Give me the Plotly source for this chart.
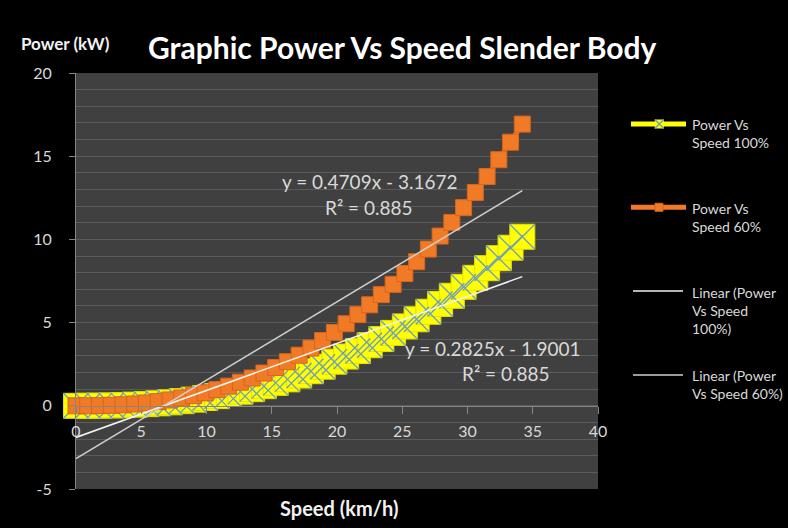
import plotly.graph_objects as go

# ---------------- data ----------------
speed_kmh = [0.0, 0.9, 1.8, 2.7, 3.6, 4.5, 5.4, 6.3, 7.2, 8.1, 9.0, 9.9, 10.8, 11.7,
             12.6, 13.5, 14.4, 15.3, 16.2, 17.1, 18.0, 18.9, 19.8, 20.7, 21.6, 22.5,
             23.4, 24.3, 25.2, 26.1, 27.0, 27.9, 28.8, 29.7, 30.6, 31.5, 32.4, 33.3, 34.2]

power_100 = [0.0, 0.0, 0.01, 0.02, 0.04, 0.07, 0.10, 0.15, 0.21, 0.28, 0.37, 0.47, 0.58,
             0.71, 0.85, 1.00, 1.18, 1.38, 1.59, 1.82, 2.08, 2.35, 2.65, 2.96, 3.29, 3.64,
             4.01, 4.38, 4.77, 5.20, 5.65, 6.12, 6.61, 7.15, 7.69, 8.27, 8.87, 9.50, 10.16]

power_60 = [0.0, 0.0, 0.01, 0.03, 0.06, 0.11, 0.17, 0.25, 0.35, 0.47, 0.61, 0.78, 0.97,
            1.18, 1.42, 1.67, 1.97, 2.30, 2.65, 3.04, 3.47, 3.92, 4.41, 4.93, 5.48, 6.07,
            6.68, 7.30, 7.95, 8.66, 9.42, 10.20, 11.02, 11.91, 12.82, 13.78, 14.79, 15.84, 16.93]

trend_100 = {"slope": 0.2825, "intercept": -1.9001, "r2": 0.885}
trend_60 = {"slope": 0.4709, "intercept": -3.1672, "r2": 0.885}

series_names = ["Power Vs<br>Speed 100%", "Power Vs<br>Speed 60%",
                "Linear (Power<br>Vs Speed<br>100%)", "Linear (Power<br>Vs Speed 60%)"]

x_ticks = [0, 5, 10, 15, 20, 25, 30, 35, 40]
y_ticks = [-5, 0, 5, 10, 15, 20]

# ---------------- styles ----------------
FONT = "Lato"
YELLOW = "#FFFF00"
XBLUE = "#6F9FBF"
ORANGE = "#F07A26"
ORANGE_EDGE = "#D8661C"
TREND_100_C = "#F2F2F2"
TREND_60_C = "#CFCFCF"
TXT = "#D9D9D9"
AXIS_C = "#868686"
GRID_C = "#5B5B5B"

x_end = [speed_kmh[0], speed_kmh[-1]]
fit100 = [trend_100["slope"] * v + trend_100["intercept"] for v in x_end]
fit60 = [trend_60["slope"] * v + trend_60["intercept"] for v in x_end]

fig = go.Figure()

fig.add_trace(go.Scatter(
    x=speed_kmh, y=power_100, mode="lines+markers", showlegend=False,
    line=dict(color=YELLOW, width=5),
    marker=dict(symbol="square", size=25, color=YELLOW, line=dict(color="#E3E300", width=1)),
    cliponaxis=False))
fig.add_trace(go.Scatter(
    x=speed_kmh, y=power_100, mode="markers", showlegend=False,
    marker=dict(symbol="x-thin", size=25, color=XBLUE, line=dict(color=XBLUE, width=1.3)),
    cliponaxis=False))
fig.add_trace(go.Scatter(
    x=speed_kmh, y=power_60, mode="lines+markers", showlegend=False,
    line=dict(color=ORANGE, width=5),
    marker=dict(symbol="square", size=16, color=ORANGE, line=dict(color=ORANGE_EDGE, width=1)),
    cliponaxis=False))
fig.add_trace(go.Scatter(
    x=x_end, y=fit100, mode="lines", showlegend=False,
    line=dict(color=TREND_100_C, width=1.5), cliponaxis=False))
fig.add_trace(go.Scatter(
    x=x_end, y=fit60, mode="lines", showlegend=False,
    line=dict(color=TREND_60_C, width=1.5), cliponaxis=False))

def eq_text(t):
    sign = "-" if t["intercept"] < 0 else "+"
    return f"y = {t['slope']:.4f}x {sign} {abs(t['intercept']):.4f}"

EQ_SIZE = 19
ann = []
ann.append(dict(x=22.53, y=13.47, xref="x", yref="y", text=eq_text(trend_60), showarrow=False,
                xanchor="center", yanchor="middle", font=dict(family=FONT, size=EQ_SIZE, color=TXT)))
ann.append(dict(x=22.45, y=11.93, xref="x", yref="y", text=f"R² = {trend_60['r2']}", showarrow=False,
                xanchor="center", yanchor="middle", font=dict(family=FONT, size=EQ_SIZE, color=TXT)))
ann.append(dict(x=31.95, y=3.45, xref="x", yref="y", text=eq_text(trend_100), showarrow=False,
                xanchor="center", yanchor="middle", font=dict(family=FONT, size=EQ_SIZE, color=TXT)))
ann.append(dict(x=32.93, y=1.93, xref="x", yref="y", text=f"R² = {trend_100['r2']}", showarrow=False,
                xanchor="center", yanchor="middle", font=dict(family=FONT, size=EQ_SIZE, color=TXT)))

# titles
ann.append(dict(x=0.6255, y=1.0625, xref="paper", yref="paper", text="<b>Graphic Power Vs Speed Slender Body</b>",
                showarrow=False, xanchor="center", yanchor="middle",
                font=dict(family=FONT, size=30, color="#FFFFFF")))
ann.append(dict(x=-0.021, y=1.071, xref="paper", yref="paper", text="<b>Power (kW)</b>",
                showarrow=False, xanchor="center", yanchor="middle",
                font=dict(family=FONT, size=17, color="#F2F2F2")))
ann.append(dict(x=0.504, y=-0.0457, xref="paper", yref="paper", text="<b>Speed (km/h)</b>",
                showarrow=False, xanchor="center", yanchor="middle",
                font=dict(family=FONT, size=20, color="#F2F2F2")))

# manual legend
leg_text_y = [0.854, 0.6538, 0.4284, 0.2512]
for name, yy in zip(series_names, leg_text_y):
    ann.append(dict(x=1.1762, y=yy, xref="paper", yref="paper", text=name, showarrow=False,
                    xanchor="left", yanchor="middle", align="left",
                    font=dict(family=FONT, size=14, color=TXT)))

shapes = []
shapes.append(dict(type="line", xref="paper", yref="paper", x0=1.0632, x1=1.1686, y0=0.8774, y1=0.8774,
                   line=dict(color=YELLOW, width=5)))
shapes.append(dict(type="line", xref="paper", yref="paper", x0=1.0632, x1=1.1686, y0=0.6772, y1=0.6772,
                   line=dict(color=ORANGE, width=5)))
shapes.append(dict(type="line", xref="paper", yref="paper", x0=1.0670, x1=1.1628, y0=0.476, y1=0.476,
                   line=dict(color=TREND_100_C, width=1.5)))
shapes.append(dict(type="line", xref="paper", yref="paper", x0=1.0670, x1=1.1628, y0=0.274, y1=0.274,
                   line=dict(color=TREND_60_C, width=1.5)))
# legend marker glyphs
shapes.append(dict(type="rect", xref="paper", yref="paper", xsizemode="pixel", ysizemode="pixel",
                   xanchor=1.1174, yanchor=0.8774, x0=-4.5, x1=4.5, y0=-4.5, y1=4.5,
                   fillcolor=YELLOW, line=dict(color=YELLOW, width=0)))
shapes.append(dict(type="path", xref="paper", yref="paper", xsizemode="pixel", ysizemode="pixel",
                   xanchor=1.1174, yanchor=0.8774, path="M-4.5,-4.5L4.5,4.5M-4.5,4.5L4.5,-4.5",
                   line=dict(color=XBLUE, width=1.3)))
shapes.append(dict(type="rect", xref="paper", yref="paper", xsizemode="pixel", ysizemode="pixel",
                   xanchor=1.1169, yanchor=0.6772, x0=-4, x1=4, y0=-4, y1=4,
                   fillcolor=ORANGE, line=dict(color=ORANGE_EDGE, width=1)))

fig.update_layout(
    width=788, height=528,
    margin=dict(l=76, r=190, t=73, b=39),
    paper_bgcolor="#000000", plot_bgcolor="#404040",
    showlegend=False,
    annotations=ann, shapes=shapes,
    xaxis=dict(range=[0, 40], tickvals=x_ticks, ticktext=[str(v) for v in x_ticks],
               anchor="free", position=0.2, showgrid=False, zeroline=False,
               showline=True, linecolor=AXIS_C, linewidth=1,
               ticks="outside", ticklen=7, tickcolor=AXIS_C, ticklabelstandoff=4,
               tickfont=dict(family=FONT, size=16, color=TXT)),
    yaxis=dict(range=[-5, 20], tickvals=y_ticks, ticktext=[str(v) for v in y_ticks],
               showgrid=True, gridcolor=GRID_C, gridwidth=1, zeroline=False,
               showline=True, linecolor=AXIS_C, linewidth=1,
               ticks="outside", ticklen=6, tickcolor=AXIS_C, ticklabelstandoff=14,
               tickfont=dict(family=FONT, size=16, color=TXT),
               minor=dict(dtick=1, showgrid=True, gridcolor=GRID_C, gridwidth=1, ticks="")),
)

fig.write_html("out.html",
               config={"displayModeBar": False},
               post_script="document.body.style.margin='0px';"
                           "document.body.style.backgroundColor='#000000';")
